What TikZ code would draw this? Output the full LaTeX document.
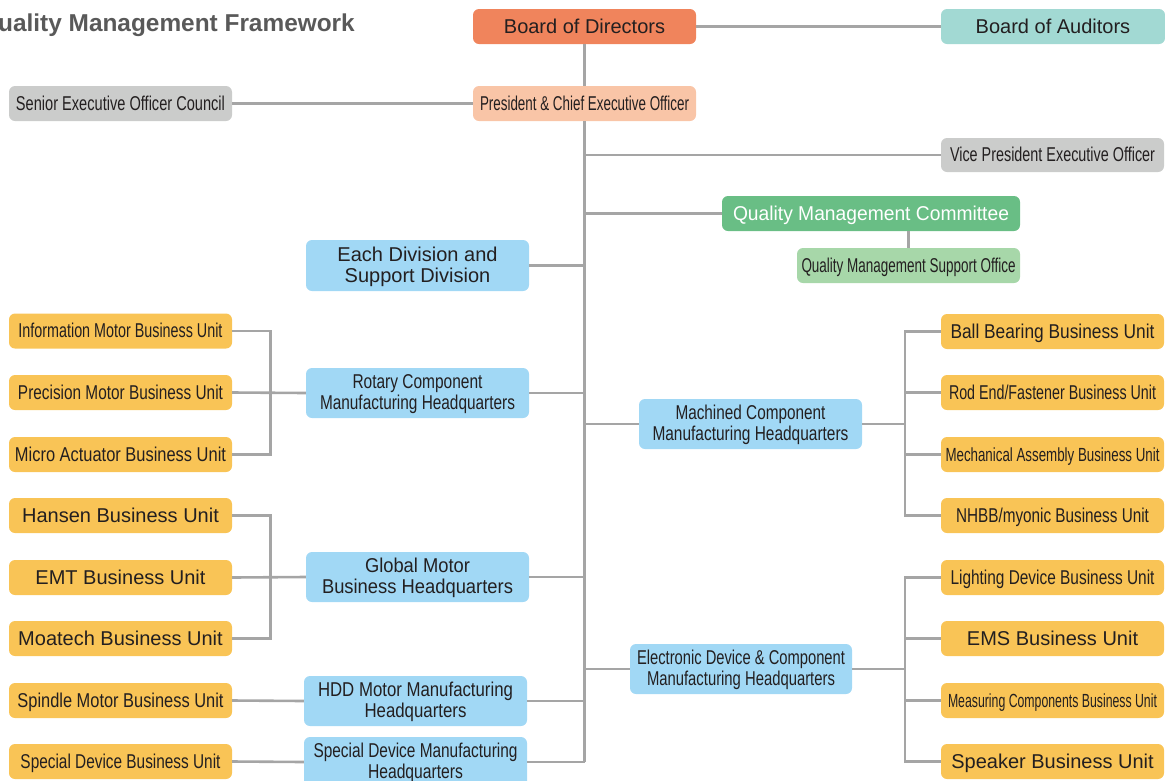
\documentclass[tikz,border=0pt]{standalone}
\usepackage{fontspec}
\setmainfont{Liberation Sans}
\usepackage{graphicx}
\definecolor{txt}{HTML}{231F20}
\definecolor{titc}{HTML}{595959}
\definecolor{bodc}{HTML}{F0845C}
\definecolor{boac}{HTML}{A2D9D3}
\definecolor{presc}{HTML}{F9C5A7}
\definecolor{gry}{HTML}{CBCCCB}
\definecolor{qmcc}{HTML}{69BE85}
\definecolor{qmsoc}{HTML}{A7D7A9}
\definecolor{blu}{HTML}{A1D8F5}
\definecolor{yel}{HTML}{F9C456}
\definecolor{lc}{HTML}{A5A5A5}
\newcommand\fw[2]{\resizebox{#1pt}{\height}{#2}}
\begin{document}
\begin{tikzpicture}[x=1pt,y=-1pt,
  base/.style={rounded corners=6, minimum width=223, minimum height=35, inner sep=0,
    align=center, text=txt, font=\fontsize{20}{20.5}\selectfont},
  box/.style={base, text height=16, text depth=2.5},
  unit/.style={box, fill=yel},
  hq/.style={base, fill=blu, minimum height=50},
  gbox/.style={box, fill=gry},
  small/.style={font=\fontsize{19}{20}\selectfont},
  link/.style={draw=lc, line width=2.6}]
\useasboundingbox (0,0) rectangle (1165,780);

\node[anchor=base east, inner sep=0, text=titc, font=\bfseries\fontsize{24.4}{28}\selectfont] (title) at (355,31.5) {Quality Management Framework};

\node[box, fill=bodc] (bod) at (584.5,26.5) {Board of Directors};
\node[box, fill=boac, minimum width=224] (boa) at (1053,26.5) {Board of Auditors};
\node[box, fill=presc] (pres) at (584.5,103.5) {\fw{209}{President \& Chief Executive Officer}};
\node[gbox] (seoc) at (120.5,103.5) {\fw{209}{Senior Executive Officer Council}};
\node[gbox, minimum height=34] (vp) at (1052.5,155) {\fw{205}{Vice President Executive Officer}};
\node[box, fill=qmcc, text=white, minimum width=298] (qmc) at (871,213.5) {\fw{276}{Quality Management Committee}};
\node[box, fill=qmsoc] (qmso) at (908.5,265.5) {\fw{214}{Quality Management Support Office}};

\node[hq, minimum height=51] (each) at (417.5,265.5) {\rule{0pt}{17.5pt}Each Division and\\Support Division};
\node[hq] (rot) at (417.5,393) {\rule{0pt}{16.5pt}\fw{130}{Rotary Component}\\\fw{195}{Manufacturing Headquarters}};
\node[hq] (glob) at (417.5,577) {\rule{0pt}{16.5pt}\fw{105}{Global Motor}\\\fw{191}{Business Headquarters}};
\node[hq] (hdd) at (415.5,701) {\rule{0pt}{16.5pt}\fw{195}{HDD Motor Manufacturing}\\\fw{102}{Headquarters}};
\node[hq] (sdm) at (415.5,762) {\rule{0pt}{16.5pt}\fw{204}{Special Device Manufacturing}\\\fw{95}{Headquarters}};
\node[hq] (mach) at (750.5,424) {\rule{0pt}{16.5pt}\fw{150}{Machined Component}\\\fw{196}{Manufacturing Headquarters}};
\node[hq, minimum width=222] (elec) at (741,669) {\rule{0pt}{16.5pt}\fw{208}{Electronic Device \& Component}\\\fw{188}{Manufacturing Headquarters}};

\node[unit] (l1) at (120.5,331) {\fw{204}{Information Motor Business Unit}};
\node[unit] (l2) at (120.5,392.5) {\fw{205}{Precision Motor Business Unit}};
\node[unit] (l3) at (120.5,454.5) {\fw{211}{Micro Actuator Business Unit}};
\node[unit] (l4) at (120.5,515.5) {Hansen Business Unit};
\node[unit] (l5) at (120.5,577.5) {EMT Business Unit};
\node[unit] (l6) at (120.5,638.5) {Moatech Business Unit};
\node[unit] (l7) at (120.5,700.5) {\fw{206}{Spindle Motor Business Unit}};
\node[unit] (l8) at (120.5,761.5) {\fw{200}{Special Device Business Unit}};

\node[unit] (r1) at (1052.5,331.5) {\fw{204}{Ball Bearing Business Unit}};
\node[unit] (r2) at (1052.5,392.5) {\fw{207}{Rod End/Fastener Business Unit}};
\node[unit, small] (r3) at (1052.5,454.5) {\fw{214}{Mechanical Assembly Business Unit}};
\node[unit] (r4) at (1052.5,515.5) {\fw{193}{NHBB/myonic Business Unit}};
\node[unit] (r5) at (1052.5,577.5) {\fw{204}{Lighting Device Business Unit}};
\node[unit] (r6) at (1052.5,638.5) {EMS Business Unit};
\node[unit, small] (r7) at (1052.5,700.5) {\fw{209}{Measuring Components Business Unit}};
\node[unit] (r8) at (1052.5,761.5) {Speaker Business Unit};

\coordinate (trunkend) at (584.5,762);

% top connectors
\draw[link] (bod.east) -- (boa.west);
\draw[link] (bod.south) -- (pres.north);
\draw[link] (pres.west) -- (seoc.east);
\draw[link] (pres.south) -- (trunkend);
\draw[link] (pres.south |- vp.west) -- (vp.west);
\draw[link] (pres.south |- qmc.west) -- (qmc.west);
\draw[link] (qmso.north) -- (qmso.north |- qmc.south);

% headquarters to trunk
\draw[link] (each.east) -- (pres.south |- each.east);
\draw[link] (rot.east) -- (pres.south |- rot.east);
\draw[link] (glob.east) -- (pres.south |- glob.east);
\draw[link] (hdd.east) -- (pres.south |- hdd.east);
\draw[link] (sdm.east) -- (trunkend);
\draw[link] (mach.west) -- (pres.south |- mach.west);
\draw[link] (elec.west) -- (pres.south |- elec.west);

% left brackets
\draw[link] (l1.east) -- ++(38,0) |- (l3.east);
\draw[link] (l2.east) -- (rot.west);
\draw[link] (l4.east) -- ++(38,0) |- (l6.east);
\draw[link] (l5.east) -- (glob.west);
\draw[link] (l7.east) -- (hdd.west);
\draw[link] (l8.east) -- (sdm.west);

% right brackets
\draw[link] (r1.west) -- ++(-36,0) |- (r4.west);
\draw[link] (r2.west) -- ++(-36,0);
\draw[link] (r3.west) -- ++(-36,0);
\draw[link] (mach.east) -- ++(43,0);
\draw[link] (r5.west) -- ++(-36,0) |- (r8.west);
\draw[link] (r6.west) -- ++(-36,0);
\draw[link] (r7.west) -- ++(-36,0);
\draw[link] (elec.east) -- ++(53,0);
\end{tikzpicture}
\end{document}
